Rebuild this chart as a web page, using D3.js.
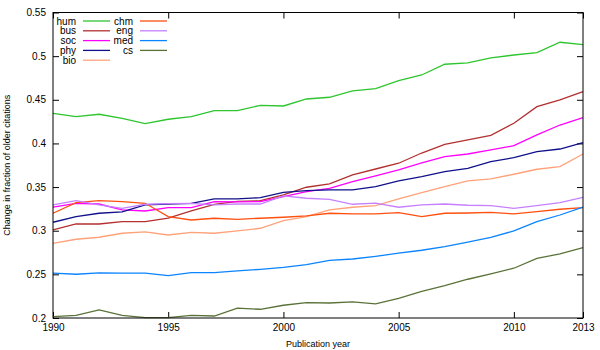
<!DOCTYPE html>
<html>
<head>
<meta charset="utf-8">
<script src="https://cdn.jsdelivr.net/npm/d3@7"></script>
<style>
  body { margin: 0; background: #fff; }
  svg { font-family: "Liberation Sans", Arial, sans-serif; font-size: 10px; }
</style>
</head>
<body>
<svg id="chart" width="600" height="350"></svg>
<script>
// publication years
const years = d3.range(1990, 2014);

// change in fraction of older citations, per field
const hum = [0.4345, 0.4306, 0.4334, 0.4288, 0.4226, 0.4277, 0.4306, 0.4375, 0.4375, 0.4437, 0.4429, 0.4509,
  0.4529, 0.4601, 0.4627, 0.4719, 0.4784, 0.4907, 0.4922, 0.4980, 0.5013, 0.5040, 0.5159, 0.5131];
const bus = [0.3009, 0.3077, 0.3077, 0.3104, 0.3104, 0.3143, 0.3226, 0.3303, 0.3335, 0.3344, 0.3410, 0.3498,
  0.3536, 0.3639, 0.3707, 0.3773, 0.3890, 0.3990, 0.4040, 0.4093, 0.4231, 0.4421, 0.4498, 0.4593];
const soc = [0.3269, 0.3314, 0.3306, 0.3238, 0.3226, 0.3264, 0.3264, 0.3333, 0.3330, 0.3333, 0.3390, 0.3447,
  0.3486, 0.3562, 0.3627, 0.3696, 0.3776, 0.3848, 0.3879, 0.3925, 0.3974, 0.4097, 0.4211, 0.4295];
const phy = [0.3097, 0.3161, 0.3200, 0.3215, 0.3295, 0.3306, 0.3314, 0.3364, 0.3364, 0.3379, 0.3440, 0.3459,
  0.3467, 0.3467, 0.3505, 0.3570, 0.3619, 0.3676, 0.3715, 0.3791, 0.3837, 0.3906, 0.3936, 0.4009];
const bio = [0.2856, 0.2902, 0.2925, 0.2971, 0.2986, 0.2951, 0.2982, 0.2971, 0.2997, 0.3028, 0.3115, 0.3161,
  0.3238, 0.3269, 0.3287, 0.3364, 0.3435, 0.3505, 0.3570, 0.3593, 0.3647, 0.3704, 0.3734, 0.3879];
const chm = [0.3200, 0.3321, 0.3344, 0.3333, 0.3314, 0.3161, 0.3123, 0.3143, 0.3131, 0.3143, 0.3154, 0.3169,
  0.3200, 0.3192, 0.3192, 0.3207, 0.3161, 0.3200, 0.3203, 0.3211, 0.3192, 0.3218, 0.3246, 0.3264];
const eng = [0.3295, 0.3344, 0.3295, 0.3257, 0.3303, 0.3310, 0.3314, 0.3295, 0.3306, 0.3306, 0.3398, 0.3372,
  0.3360, 0.3303, 0.3315, 0.3269, 0.3295, 0.3306, 0.3292, 0.3287, 0.3257, 0.3287, 0.3321, 0.3383];
const med = [0.2513, 0.2501, 0.2516, 0.2513, 0.2513, 0.2485, 0.2520, 0.2520, 0.2540, 0.2558, 0.2581, 0.2611,
  0.2661, 0.2676, 0.2707, 0.2743, 0.2776, 0.2817, 0.2868, 0.2925, 0.2997, 0.3104, 0.3180, 0.3269];
const cs = [0.2015, 0.2031, 0.2092, 0.2031, 0.2004, 0.2004, 0.2031, 0.2023, 0.2112, 0.2100, 0.2146, 0.2176,
  0.2172, 0.2184, 0.2161, 0.2226, 0.2304, 0.2370, 0.2444, 0.2505, 0.2570, 0.2684, 0.2734, 0.2806];

const fields = ['hum', 'bus', 'soc', 'phy', 'bio', 'chm', 'eng', 'med', 'cs'];
const values = { hum, bus, soc, phy, bio, chm, eng, med, cs };
const colors = ['#2ec52e', '#b23030', '#ff00ff', '#10108a', '#ffa27a', '#ff5010', '#c680ff', '#0a84ff', '#5a7238'];

const xTicks = [1990, 1995, 2000, 2005, 2010, 2013];
const yTicks = [0.2, 0.25, 0.3, 0.35, 0.4, 0.45, 0.5, 0.55];

const margin = { top: 12.5, right: 17, bottom: 32, left: 53 };
const width = 600 - margin.left - margin.right;
const height = 350 - margin.top - margin.bottom;

let svg = d3.select('#chart');
let g = svg.append('g').attr('transform', 'translate(' + margin.left + ',' + margin.top + ')');

let x = d3.scaleLinear().domain([1990, 2013]).range([0, width]);
let y = d3.scaleLinear().domain([0.2, 0.55]).range([height, 0]);

// axes, gnuplot style: ticks inside, mirrored on top and right
let tickLen = 6;
g.append('g')
  .attr('transform', 'translate(0,' + height + ')')
  .call(d3.axisBottom(x).tickValues(xTicks).tickFormat(d3.format('d')).tickSizeInner(-tickLen).tickSizeOuter(0).tickPadding(6));
g.append('g')
  .call(d3.axisTop(x).tickValues(xTicks).tickFormat('').tickSizeInner(-tickLen).tickSizeOuter(0));
g.append('g')
  .call(d3.axisLeft(y).tickValues(yTicks).tickFormat(d => String(d)).tickSizeInner(-tickLen).tickSizeOuter(0).tickPadding(7));
g.append('g')
  .attr('transform', 'translate(' + width + ',0)')
  .call(d3.axisRight(y).tickValues(yTicks).tickFormat('').tickSizeInner(-tickLen).tickSizeOuter(0));

g.selectAll('.domain').remove();
g.selectAll('.tick line').attr('stroke', '#000');
g.selectAll('.tick text').attr('fill', '#000').style('font-size', '10px');

// lines
let line = d3.line()
  .x((d, i) => x(years[i]))
  .y(d => y(d));

g.selectAll('path.series')
  .data(fields)
  .enter()
  .append('path')
  .attr('class', 'series')
  .attr('fill', 'none')
  .attr('stroke', (d, i) => colors[i])
  .attr('stroke-width', 1.3)
  .attr('d', d => line(values[d]));

// frame
g.append('rect')
  .attr('width', width)
  .attr('height', height)
  .attr('fill', 'none')
  .attr('stroke', '#000')
  .attr('stroke-width', 1);

// legend, two columns
let legend = g.append('g');
fields.forEach(function(f, i) {
  let col = i < 5 ? 0 : 1;
  let row = i < 5 ? i : i - 5;
  let item = legend.append('g')
    .attr('transform', 'translate(' + (23 + col * 57) + ',' + (8.5 + row * 9.8) + ')');
  item.append('text')
    .attr('text-anchor', 'end')
    .attr('dy', '0.35em')
    .style('font-size', '10px')
    .text(f);
  item.append('line')
    .attr('x1', 7).attr('x2', 34)
    .attr('stroke', colors[i])
    .attr('stroke-width', 1.3);
});

// axis titles
svg.append('text')
  .attr('x', margin.left + width / 2)
  .attr('y', 347)
  .attr('text-anchor', 'middle')
  .style('font-size', '9px')
  .text('Publication year');
svg.append('text')
  .attr('transform', 'translate(10,' + (margin.top + height / 2) + ') rotate(-90)')
  .attr('text-anchor', 'middle')
  .style('font-size', '9px')
  .text('Change in fraction of older citations');
</script>
</body>
</html>
